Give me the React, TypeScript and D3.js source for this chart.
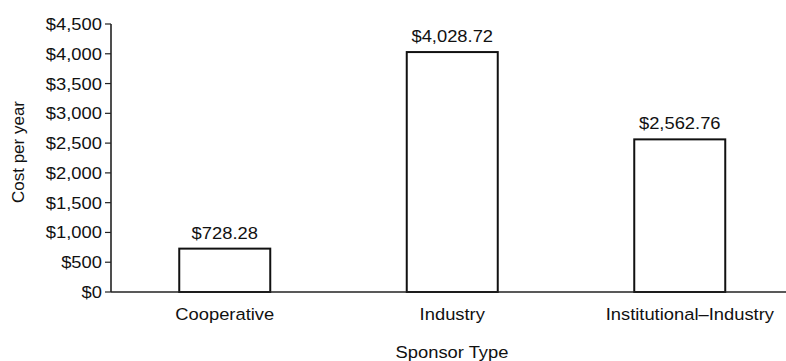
import React from "react";
import * as d3 from "d3";

const categories = ["Cooperative", "Industry", "Institutional–Industry"];
const values = [728.28, 4028.72, 2562.76];
const valueLabels = ["$728.28", "$4,028.72", "$2,562.76"];
const yTicks = [0, 500, 1000, 1500, 2000, 2500, 3000, 3500, 4000, 4500];

const W = 786;
const H = 361;
const FONT = "'Liberation Sans', Arial, Helvetica, sans-serif";
const FS = 17;
const SX = 1.08;

function T({ x, y, anchor = "middle", children, dy = 0 }: any) {
  return (
    <text
      transform={`translate(${x},${y}) scale(${SX},1)`}
      textAnchor={anchor}
      dy={dy}
      fontFamily={FONT}
      fontSize={FS}
      fill="#111"
    >
      {children}
    </text>
  );
}

export default function App() {
  const x = d3
    .scaleBand<string>()
    .domain(categories)
    .range([111, 793.5])
    .paddingInner(0.6)
    .paddingOuter(0.3);
  const y = d3.scaleLinear().domain([0, 4500]).range([292, 24]);
  const fmt = (v: number) => "$" + d3.format(",")(v);

  return (
    <svg
      width={W}
      height={H}
      style={{ position: "absolute", left: 0, top: 0, background: "#fff" }}
    >
      {/* y axis */}
      <line x1={111} x2={111} y1={y(4500)} y2={y(0)} stroke="#222" strokeWidth={1.6} />
      {yTicks.map((t) => (
        <g key={t}>
          <line x1={105} x2={111} y1={y(t)} y2={y(t)} stroke="#222" strokeWidth={1.2} />
          <T x={102} y={y(t)} anchor="end" dy="0.35em">
            {fmt(t)}
          </T>
        </g>
      ))}
      {/* bars */}
      {categories.map((c, i) => {
        const cx = x(c)! + x.bandwidth() / 2;
        const last = i === categories.length - 1;
        return (
          <g key={c}>
            <rect
              x={x(c)!}
              y={y(values[i])}
              width={x.bandwidth()}
              height={y(0) - y(values[i])}
              fill="#fff"
              stroke="#111"
              strokeWidth={2}
            />
            <T x={cx} y={y(values[i]) - 10}>
              {valueLabels[i]}
            </T>
            <T x={last ? W - 12 : cx} y={320} anchor={last ? "end" : "middle"}>
              {c}
            </T>
          </g>
        );
      })}
      {/* x axis */}
      <line x1={111} x2={W} y1={y(0)} y2={y(0)} stroke="#222" strokeWidth={1.6} />
      <T x={452} y={358}>
        Sponsor Type
      </T>
      <text
        transform={`translate(24,152) rotate(-90)`}
        textAnchor="middle"
        fontFamily={FONT}
        fontSize={FS}
        fill="#111"
      >
        Cost per year
      </text>
    </svg>
  );
}
